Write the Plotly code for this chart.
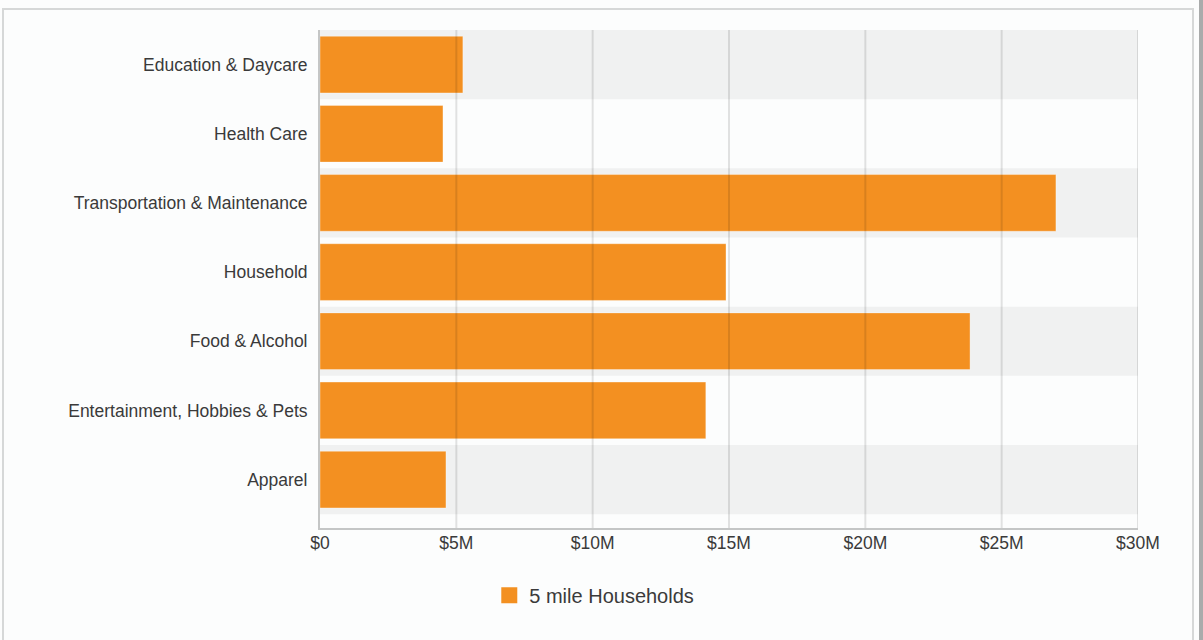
import plotly.graph_objects as go

categories = ["Education & Daycare", "Health Care", "Transportation & Maintenance",
              "Household", "Food & Alcohol", "Entertainment, Hobbies & Pets", "Apparel"]
values = [5.24e6, 4.51e6, 26.99e6, 14.89e6, 23.84e6, 14.15e6, 4.62e6]
series_name = "5 mile Households"
tick_values = [0, 5e6, 10e6, 15e6, 20e6, 25e6, 30e6]
tick_labels = ["$0", "$5M", "$10M", "$15M", "$20M", "$25M", "$30M"]

BAR = "#F39021"
FONT = "Liberation Sans, Arial, sans-serif"
TXT = "#3a3a3a"

fig = go.Figure()
fig.add_trace(go.Bar(
    y=categories, x=values, orientation="h", width=0.82,
    marker=dict(color=BAR, line=dict(color="rgba(255,255,255,0.35)", width=1)),
    showlegend=False, hoverinfo="x+y",
))
fig.add_trace(go.Scatter(
    x=[None], y=[None], mode="markers", name=series_name,
    marker=dict(symbol="square", size=22, color=BAR),
))

shapes = []
# alternating plot bands
for i, _ in enumerate(categories):
    if i % 2 == 0:
        shapes.append(dict(type="rect", xref="x", yref="y", x0=0, x1=tick_values[-1],
                           y0=i - 0.5, y1=i + 0.5, fillcolor="#f0f1f1", line_width=0, layer="below"))
# gridlines drawn above the bars
for v in tick_values[1:]:
    shapes.append(dict(type="line", xref="x", yref="paper", x0=v, x1=v, y0=0, y1=1,
                       line=dict(color="rgba(0,0,0,0.11)", width=2), layer="above"))
# outer panel frame
shapes.append(dict(type="rect", xref="paper", yref="paper",
                   x0=(3 - 320) / 818, x1=(1193 - 320) / 818,
                   y0=-0.3, y1=(528 - 9) / 498,
                   line=dict(color="#d6d8d8", width=2), fillcolor="rgba(0,0,0,0)", layer="below"))
shapes.append(dict(type="rect", xref="paper", yref="paper",
                   x0=(1199 - 320) / 818, x1=(1206 - 320) / 818,
                   y0=-0.3, y1=1.2, line_width=0, fillcolor="#a9abab", layer="below"))

fig.update_layout(
    width=1203, height=640,
    margin=dict(l=320, r=65, t=30, b=112),
    paper_bgcolor="#fcfdfd", plot_bgcolor="#fcfdfd",
    font=dict(family=FONT, color=TXT, size=17.5),
    shapes=shapes,
    bargap=0.18,
    showlegend=True,
    legend=dict(orientation="h", xref="container", yref="container",
                x=0.494, xanchor="center", y=0.07, yanchor="middle",
                font=dict(size=20, color=TXT), itemwidth=30),
    xaxis=dict(range=[0, tick_values[-1]], tickvals=tick_values, ticktext=tick_labels,
               showgrid=False, zeroline=False, showline=True, linecolor="#c4c6c6", linewidth=2,
               ticks="", ticklabelstandoff=-2, tickfont=dict(size=17.5, color=TXT), fixedrange=True),
    yaxis=dict(categoryorder="array", categoryarray=categories, range=[6.7, -0.5],
               showgrid=False, zeroline=False, showline=True, linecolor="#c4c6c6", linewidth=2,
               ticks="", ticklabelstandoff=7, tickfont=dict(size=17.5, color=TXT), fixedrange=True),
)

fig.write_html("out.html", config={"displayModeBar": False},
               post_script="document.body.style.margin='0';")
